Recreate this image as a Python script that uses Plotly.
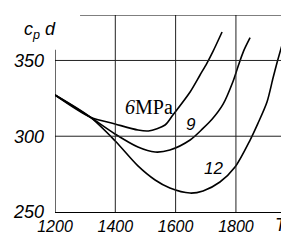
import plotly.graph_objects as go

# Data (T in K, cp values)
T6 = [1200, 1316, 1399, 1475, 1510, 1565, 1591, 1648, 1681, 1704, 1724, 1754]
cp6 = [327.2, 312.7, 308.1, 304.1, 303.5, 307.4, 314.0, 329.2, 340.4, 348.3, 356.0, 368.8]

T9 = [1200, 1316, 1399, 1475, 1532, 1581, 1648, 1690, 1720, 1757, 1790, 1807, 1825, 1847]
cp9 = [327.2, 312.7, 301.5, 292.9, 289.6, 290.9, 297.5, 305.0, 311.0, 321.0, 336.0, 346.0, 356.0, 365.0]

T12 = [1200, 1316, 1399, 1475, 1532, 1581, 1648, 1691, 1747, 1797, 1847, 1873, 1903, 1923, 1936, 1953]
cp12 = [327.2, 312.7, 297.0, 280.4, 271.1, 265.8, 262.5, 263.9, 269.8, 279.7, 297.5, 308.5, 322.6, 338.4, 348.3, 360.2]

x_ticks = [1200, 1400, 1600, 1800]
x_ticklabels = ["1200", "1400", "1600", "1800"]
y_ticks = [250, 300, 350]
y_ticklabels = ["250", "300", "350"]

series = [
    (T6, cp6, "6MPa"),
    (T9, cp9, "9"),
    (T12, cp12, "12"),
]

XMIN, XMAX = 1200, 1976
YMIN, YMAX = 250, 380

fig = go.Figure()
for T, cp, name in series:
    fig.add_trace(go.Scatter(x=T, y=cp, mode="lines", name=name,
                             line=dict(color="black", width=1.6, shape="spline", smoothing=0.8),
                             showlegend=False, hoverinfo="skip", cliponaxis=False))

shapes = []
for xv in x_ticks[1:]:
    shapes.append(dict(type="line", xref="x", yref="y", x0=xv, x1=xv, y0=YMIN, y1=YMAX,
                       line=dict(color="#222", width=1)))
for yv in y_ticks[1:]:
    shapes.append(dict(type="line", xref="x", yref="y", x0=XMIN, x1=XMAX, y0=yv, y1=yv,
                       line=dict(color="#222", width=1)))
# top border line and left axis line
shapes.append(dict(type="line", xref="x", yref="y", x0=1283, x1=XMAX, y0=YMAX, y1=YMAX,
                   line=dict(color="black", width=1.2)))
shapes.append(dict(type="line", xref="x", yref="y", x0=XMIN, x1=XMIN, y0=YMIN, y1=357,
                   line=dict(color="black", width=1.2)))

# The page body has an 8px default margin, so the figure is sized to fit the window.
fig.update_layout(
    template="none",
    width=281, height=239,
    margin=dict(l=47, r=0, t=7, b=35, pad=0),
    paper_bgcolor="white", plot_bgcolor="white",
    shapes=shapes,
    xaxis=dict(range=[XMIN, XMAX], tickvals=x_ticks, ticktext=x_ticklabels,
               showgrid=False, zeroline=False, showline=True, linecolor="black",
               linewidth=1.2, ticks="", automargin=False,
               tickfont=dict(family="Liberation Sans, Arial", size=16, color="black",
                             style="italic")),
    yaxis=dict(range=[YMIN, YMAX], tickvals=y_ticks, ticktext=y_ticklabels,
               showgrid=False, zeroline=False, showline=False, ticks="", automargin=False,
               tickfont=dict(family="Liberation Sans, Arial", size=18, color="black",
                             style="italic"),
               ticklabelstandoff=10),
    annotations=[
        dict(text="<i>c<sub>p</sub> d</i>", xref="paper", yref="paper", x=-0.064, y=0.92,
             xanchor="center", yanchor="middle", showarrow=False,
             font=dict(family="Liberation Sans, Arial", size=18, color="black")),
        dict(text="<i>T</i>", xref="x", yref="paper", x=1952, y=0, yshift=-13,
             xanchor="center", yanchor="middle", showarrow=False,
             font=dict(family="Liberation Sans, Arial", size=18, color="black")),
        dict(text="<i>6</i>MPa", xref="x", yref="y", x=1512, y=319.5, showarrow=False,
             font=dict(family="Liberation Serif, Times New Roman", size=20, color="black")),
        dict(text="<i>9</i>", xref="x", yref="y", x=1651, y=307.5, showarrow=False,
             font=dict(family="Liberation Sans, Arial", size=17, color="black")),
        dict(text="<i>12</i>", xref="x", yref="y", x=1727, y=279, showarrow=False,
             font=dict(family="Liberation Sans, Arial", size=17, color="black")),
    ],
)

fig.write_html("out.html")
